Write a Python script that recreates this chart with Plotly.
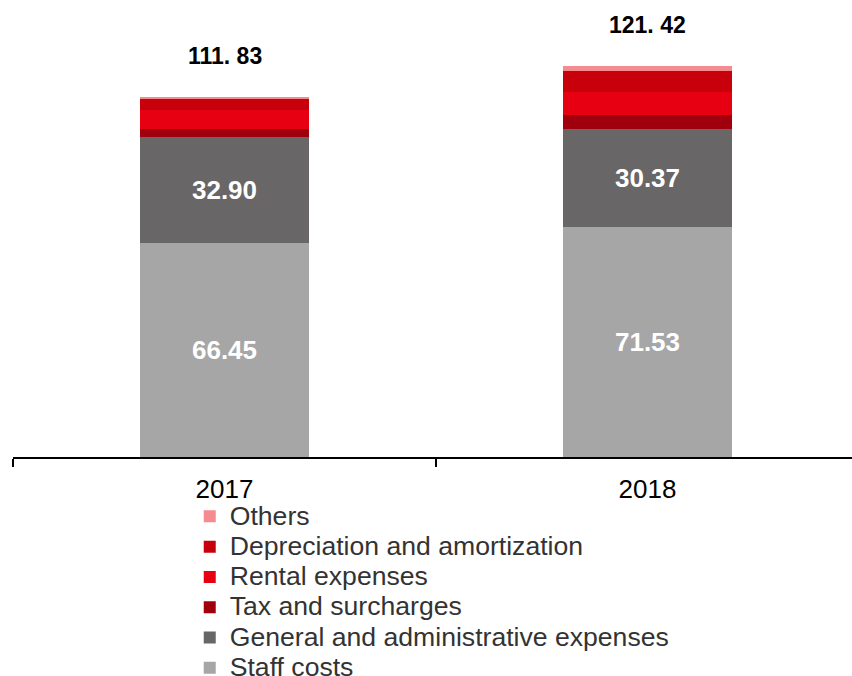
import plotly.graph_objects as go

years = ["2017", "2018"]
staff_costs = [66.45, 71.53]
general_admin = [32.90, 30.37]
tax_surcharges = [2.43, 4.33]
rental_expenses = [6.00, 7.24]
depreciation = [3.35, 6.50]
others = [0.70, 1.45]
totals = [111.83, 121.42]
total_labels = ["111. 83", "121. 42"]

series = [
    ("Staff costs", staff_costs, "#A6A6A6", True),
    ("General and administrative expenses", general_admin, "#686666", True),
    ("Tax and surcharges", tax_surcharges, "#A0000D", False),
    ("Rental expenses", rental_expenses, "#E60012", False),
    ("Depreciation and amortization", depreciation, "#C8000B", False),
    ("Others", others, "#F58A8F", False),
]

fig = go.Figure()
for name, vals, color, show in series:
    fig.add_trace(go.Bar(
        x=years, y=vals,
        name=f"<span style='font-size:26.6px'>{name}</span>",
        marker=dict(color=color, line=dict(width=0)),
        text=[f"{v:.2f}" for v in vals] if show else None,
        textposition="inside" if show else "none",
        insidetextanchor="middle",
        textangle=0,
        textfont=dict(color="white", size=26, family="Liberation Sans"),
        texttemplate="<b>%{text}</b>" if show else None,
        width=0.4,
        hoverinfo="skip",
    ))

for i, (tot, lab) in enumerate(zip(totals, total_labels)):
    fig.add_annotation(x=i, y=tot, xref="x", yref="y", text=f"<b>{lab}</b>",
                       showarrow=False, yanchor="middle", yshift=41,
                       font=dict(size=23, color="black", family="Liberation Sans"))

fig.update_layout(
    width=852, height=676,
    barmode="stack",
    plot_bgcolor="white", paper_bgcolor="white",
    margin=dict(l=13, r=0, t=0, b=219, autoexpand=False),
    font=dict(family="Liberation Sans", color="black"),
    showlegend=True,
    legend=dict(
        xref="container", yref="container",
        x=0.2227, y=0.266, xanchor="left", yanchor="top",
        traceorder="reversed",
        font=dict(size=21, color="#333333", family="Liberation Sans"),
        itemwidth=30, tracegroupgap=0,
        bgcolor="rgba(0,0,0,0)",
    ),
    uniformtext=dict(minsize=26, mode="show"),
    xaxis=dict(
        type="category",
        range=[-0.5, -0.5 + 839 / 423],
        showline=True, linecolor="black", linewidth=1.5,
        ticks="outside", tickson="boundaries", ticklen=8, tickcolor="black", tickwidth=1.5,
        tickfont=dict(size=26, color="black"),
        ticklabelstandoff=8,
        showgrid=False, zeroline=False,
    ),
    yaxis=dict(
        range=[0, 457 / 3.22],
        visible=False, showgrid=False, zeroline=False,
    ),
)

fig.write_html("out.html", config={"displayModeBar": False},
               post_script="document.body.style.margin='0px';")
